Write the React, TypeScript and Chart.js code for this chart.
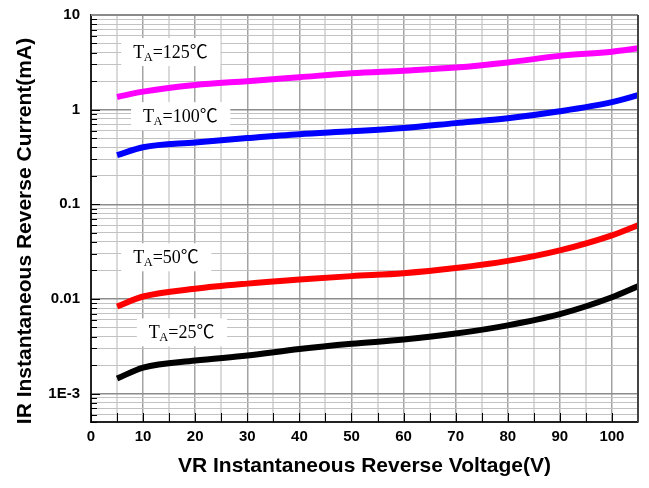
import { useEffect, useRef } from 'react';
import { Chart, registerables } from 'chart.js';

Chart.register(...registerables);

// ---------- data ----------
const voltages = [5, 10, 20, 30, 40, 50, 60, 70, 80, 90, 100, 105];
const current125C = [1.36, 1.55, 1.82, 2.0, 2.2, 2.42, 2.58, 2.78, 3.15, 3.7, 4.1, 4.45];
const current100C = [0.33, 0.4, 0.45, 0.5, 0.55, 0.59, 0.64, 0.72, 0.81, 0.96, 1.2, 1.42];
const current50C = [0.0083, 0.0106, 0.0128, 0.0145, 0.016, 0.0174, 0.0187, 0.0212, 0.0252, 0.0326, 0.047, 0.06];
const current25C = [0.00144, 0.00188, 0.00223, 0.00252, 0.00295, 0.00335, 0.00372, 0.0043, 0.00525, 0.0069, 0.0104, 0.0136];
const seriesTemps = ['125', '100', '50', '25'];
const seriesColors = ['#ff00ff', '#0000ff', '#ff0000', '#000000'];

const xTickLabels = [0, 10, 20, 30, 40, 50, 60, 70, 80, 90, 100];
const yDecades = [0.001, 0.01, 0.1, 1, 10];
const yDecadeLabels = ['1E-3', '0.01', '0.1', '1', '10'];

// label anchors (data coordinates): left of text, vertical centre
const labelXValues = [8.1, 10.0, 8.1, 11.1];
const labelYValues = [4.06, 0.853, 0.0275, 0.00443];

const X_MIN = 0;
const X_MAX = 105;
const Y_MIN = 5e-4;
const Y_MAX = 10;

const isDecade = (v: number) => Math.abs(Math.log10(v) - Math.round(Math.log10(v))) < 1e-6;

function buildYTicks(): number[] {
  const out: number[] = [];
  for (let e = -4; e <= 0; e++) {
    for (let m = 1; m <= 9; m++) {
      const v = Number((m * Math.pow(10, e)).toPrecision(3));
      if (v >= Y_MIN - 1e-12 && v <= Y_MAX) out.push(v);
    }
  }
  out.push(10);
  return out;
}

function buildXTicks(): number[] {
  const out: number[] = [];
  for (let v = X_MIN; v <= X_MAX; v += 5) out.push(v);
  return out;
}

const SANS = '"Liberation Sans", Arial, sans-serif';
const SERIF = '"Liberation Serif", "Times New Roman", "Noto Sans CJK SC", serif';

const decorPlugin = {
  id: 'decor',
  beforeDatasetsDraw(chart: any) {
    const { ctx, scales } = chart;
    const x = scales.x;
    const y = scales.y;
    seriesTemps.forEach((t, i) => {
      const px = x.getPixelForValue(labelXValues[i]);
      const py = y.getPixelForValue(labelYValues[i]);
      ctx.save();
      const main = '18px ' + SERIF;
      const sub = '12.5px ' + SERIF;
      ctx.font = main;
      const wT = ctx.measureText('T').width;
      const rest = '=' + t + '℃';
      const wR = ctx.measureText(rest).width;
      ctx.font = sub;
      const wA = ctx.measureText('A').width;
      const total = wT + wA + wR;
      ctx.fillStyle = '#ffffff';
      ctx.fillRect(px - 12, py - 14, total + 24, 28);
      ctx.fillStyle = '#000000';
      ctx.textBaseline = 'alphabetic';
      ctx.textAlign = 'left';
      const base = py + 6;
      ctx.font = main;
      ctx.fillText('T', px, base);
      ctx.font = sub;
      ctx.fillText('A', px + wT - 0.5, base + 3);
      ctx.font = main;
      ctx.fillText(rest, px + wT + wA - 0.5, base);
      ctx.restore();
    });
  },
  afterDraw(chart: any) {
    const { ctx, chartArea, scales } = chart;
    const { left, right, top, bottom } = chartArea;
    const x = scales.x;
    const y = scales.y;
    ctx.save();
    // inward ticks
    ctx.strokeStyle = '#000';
    ctx.lineWidth = 1;
    y.ticks.forEach((t: any) => {
      const py = Math.round(y.getPixelForValue(t.value)) + 0.5;
      const len = isDecade(t.value) ? 9 : 6;
      ctx.beginPath();
      ctx.moveTo(left, py);
      ctx.lineTo(left + len, py);
      ctx.stroke();
    });
    x.ticks.forEach((t: any) => {
      const px = Math.round(x.getPixelForValue(t.value)) + 0.5;
      ctx.beginPath();
      ctx.moveTo(px, bottom);
      ctx.lineTo(px, bottom - 9);
      ctx.stroke();
    });
    // top & right border
    ctx.lineWidth = 2;
    ctx.strokeStyle = '#8a8a8a';
    ctx.beginPath();
    ctx.moveTo(left, top);
    ctx.lineTo(right, top);
    ctx.stroke();
    ctx.strokeStyle = '#444';
    ctx.beginPath();
    ctx.moveTo(right, top);
    ctx.lineTo(right, bottom);
    ctx.stroke();
    // titles
    ctx.fillStyle = '#000';
    ctx.font = 'bold 21px ' + SANS;
    ctx.textAlign = 'center';
    ctx.textBaseline = 'middle';
    ctx.fillText('VR Instantaneous Reverse Voltage(V)', (left + right) / 2, 466);
    ctx.translate(25, 231);
    ctx.rotate(-Math.PI / 2);
    ctx.fillText('IR Instantaneous Reverse Current(mA)', 0, 0);
    ctx.restore();
  },
};

export default function App() {
  const ref = useRef<HTMLCanvasElement | null>(null);
  useEffect(() => {
    document.body.style.margin = '0';
    const canvas = ref.current;
    if (!canvas) return;
    const seriesValues = [current125C, current100C, current50C, current25C];
    const yTicks = buildYTicks();
    const xTicks = buildXTicks();
    const chart = new Chart(canvas, {
      type: 'line',
      data: {
        labels: voltages,
        datasets: seriesTemps.map((t, i) => ({
          label: 'TA=' + t + '℃',
          data: voltages.map((v, j) => ({ x: v, y: seriesValues[i][j] })),
          borderColor: seriesColors[i],
          backgroundColor: seriesColors[i],
          borderWidth: 6,
          pointRadius: 0,
          fill: false,
          cubicInterpolationMode: 'monotone' as const,
        })),
      },
      options: {
        animation: false,
        responsive: false,
        maintainAspectRatio: false,
        layout: { padding: { top: 15, right: 11, left: 0, bottom: 0 } },
        plugins: { legend: { display: false }, tooltip: { enabled: false } },
        scales: {
          x: {
            type: 'linear',
            min: X_MIN,
            max: X_MAX,
            afterBuildTicks: (scale: any) => {
              scale.ticks = xTicks.map((v) => ({ value: v }));
            },
            afterFit: (scale: any) => {
              scale.height = 66;
              scale.paddingLeft = 0;
              scale.paddingRight = 0;
            },
            ticks: {
              autoSkip: false,
              maxRotation: 0,
              padding: 6,
              color: '#000',
              font: { family: SANS, size: 15, weight: 'bold' },
              callback: (v: any) => (xTickLabels.includes(Number(v)) ? String(v) : ''),
            },
            grid: {
              drawTicks: false,
              color: (c: any) => (c.tick && c.tick.value % 10 === 0 ? '#a3a3a3' : '#dadada'),
              lineWidth: (c: any) => (c.tick && c.tick.value % 10 === 0 ? 1.5 : 2),
            },
            border: { color: '#222', width: 2 },
          },
          y: {
            type: 'logarithmic',
            min: Y_MIN,
            max: Y_MAX,
            afterBuildTicks: (scale: any) => {
              scale.ticks = yTicks.map((v) => ({ value: v, major: isDecade(v) }));
            },
            afterFit: (scale: any) => {
              scale.width = 91;
              scale.paddingTop = 0;
              scale.paddingBottom = 0;
            },
            ticks: {
              autoSkip: false,
              padding: 11,
              color: '#000',
              font: { family: SANS, size: 15, weight: 'bold' },
              callback: (v: any) => {
                const n = Number(v);
                const idx = yDecades.findIndex((d) => Math.abs(d - n) / d < 1e-6);
                return idx >= 0 ? yDecadeLabels[idx] : '';
              },
            },
            grid: {
              drawTicks: false,
              color: (c: any) => (c.tick && isDecade(c.tick.value) ? '#8c8c8c' : '#c2c2c2'),
              lineWidth: (c: any) => (c.tick && isDecade(c.tick.value) ? 1.5 : 1),
            },
            border: { color: '#222', width: 2 },
          },
        },
      },
      plugins: [decorPlugin],
    } as any);
    return () => chart.destroy();
  }, []);
  return (
    <div style={{ width: 649, height: 488 }}>
      <canvas ref={ref} width={649} height={488} style={{ display: 'block', width: 649, height: 488 }} />
    </div>
  );
}
